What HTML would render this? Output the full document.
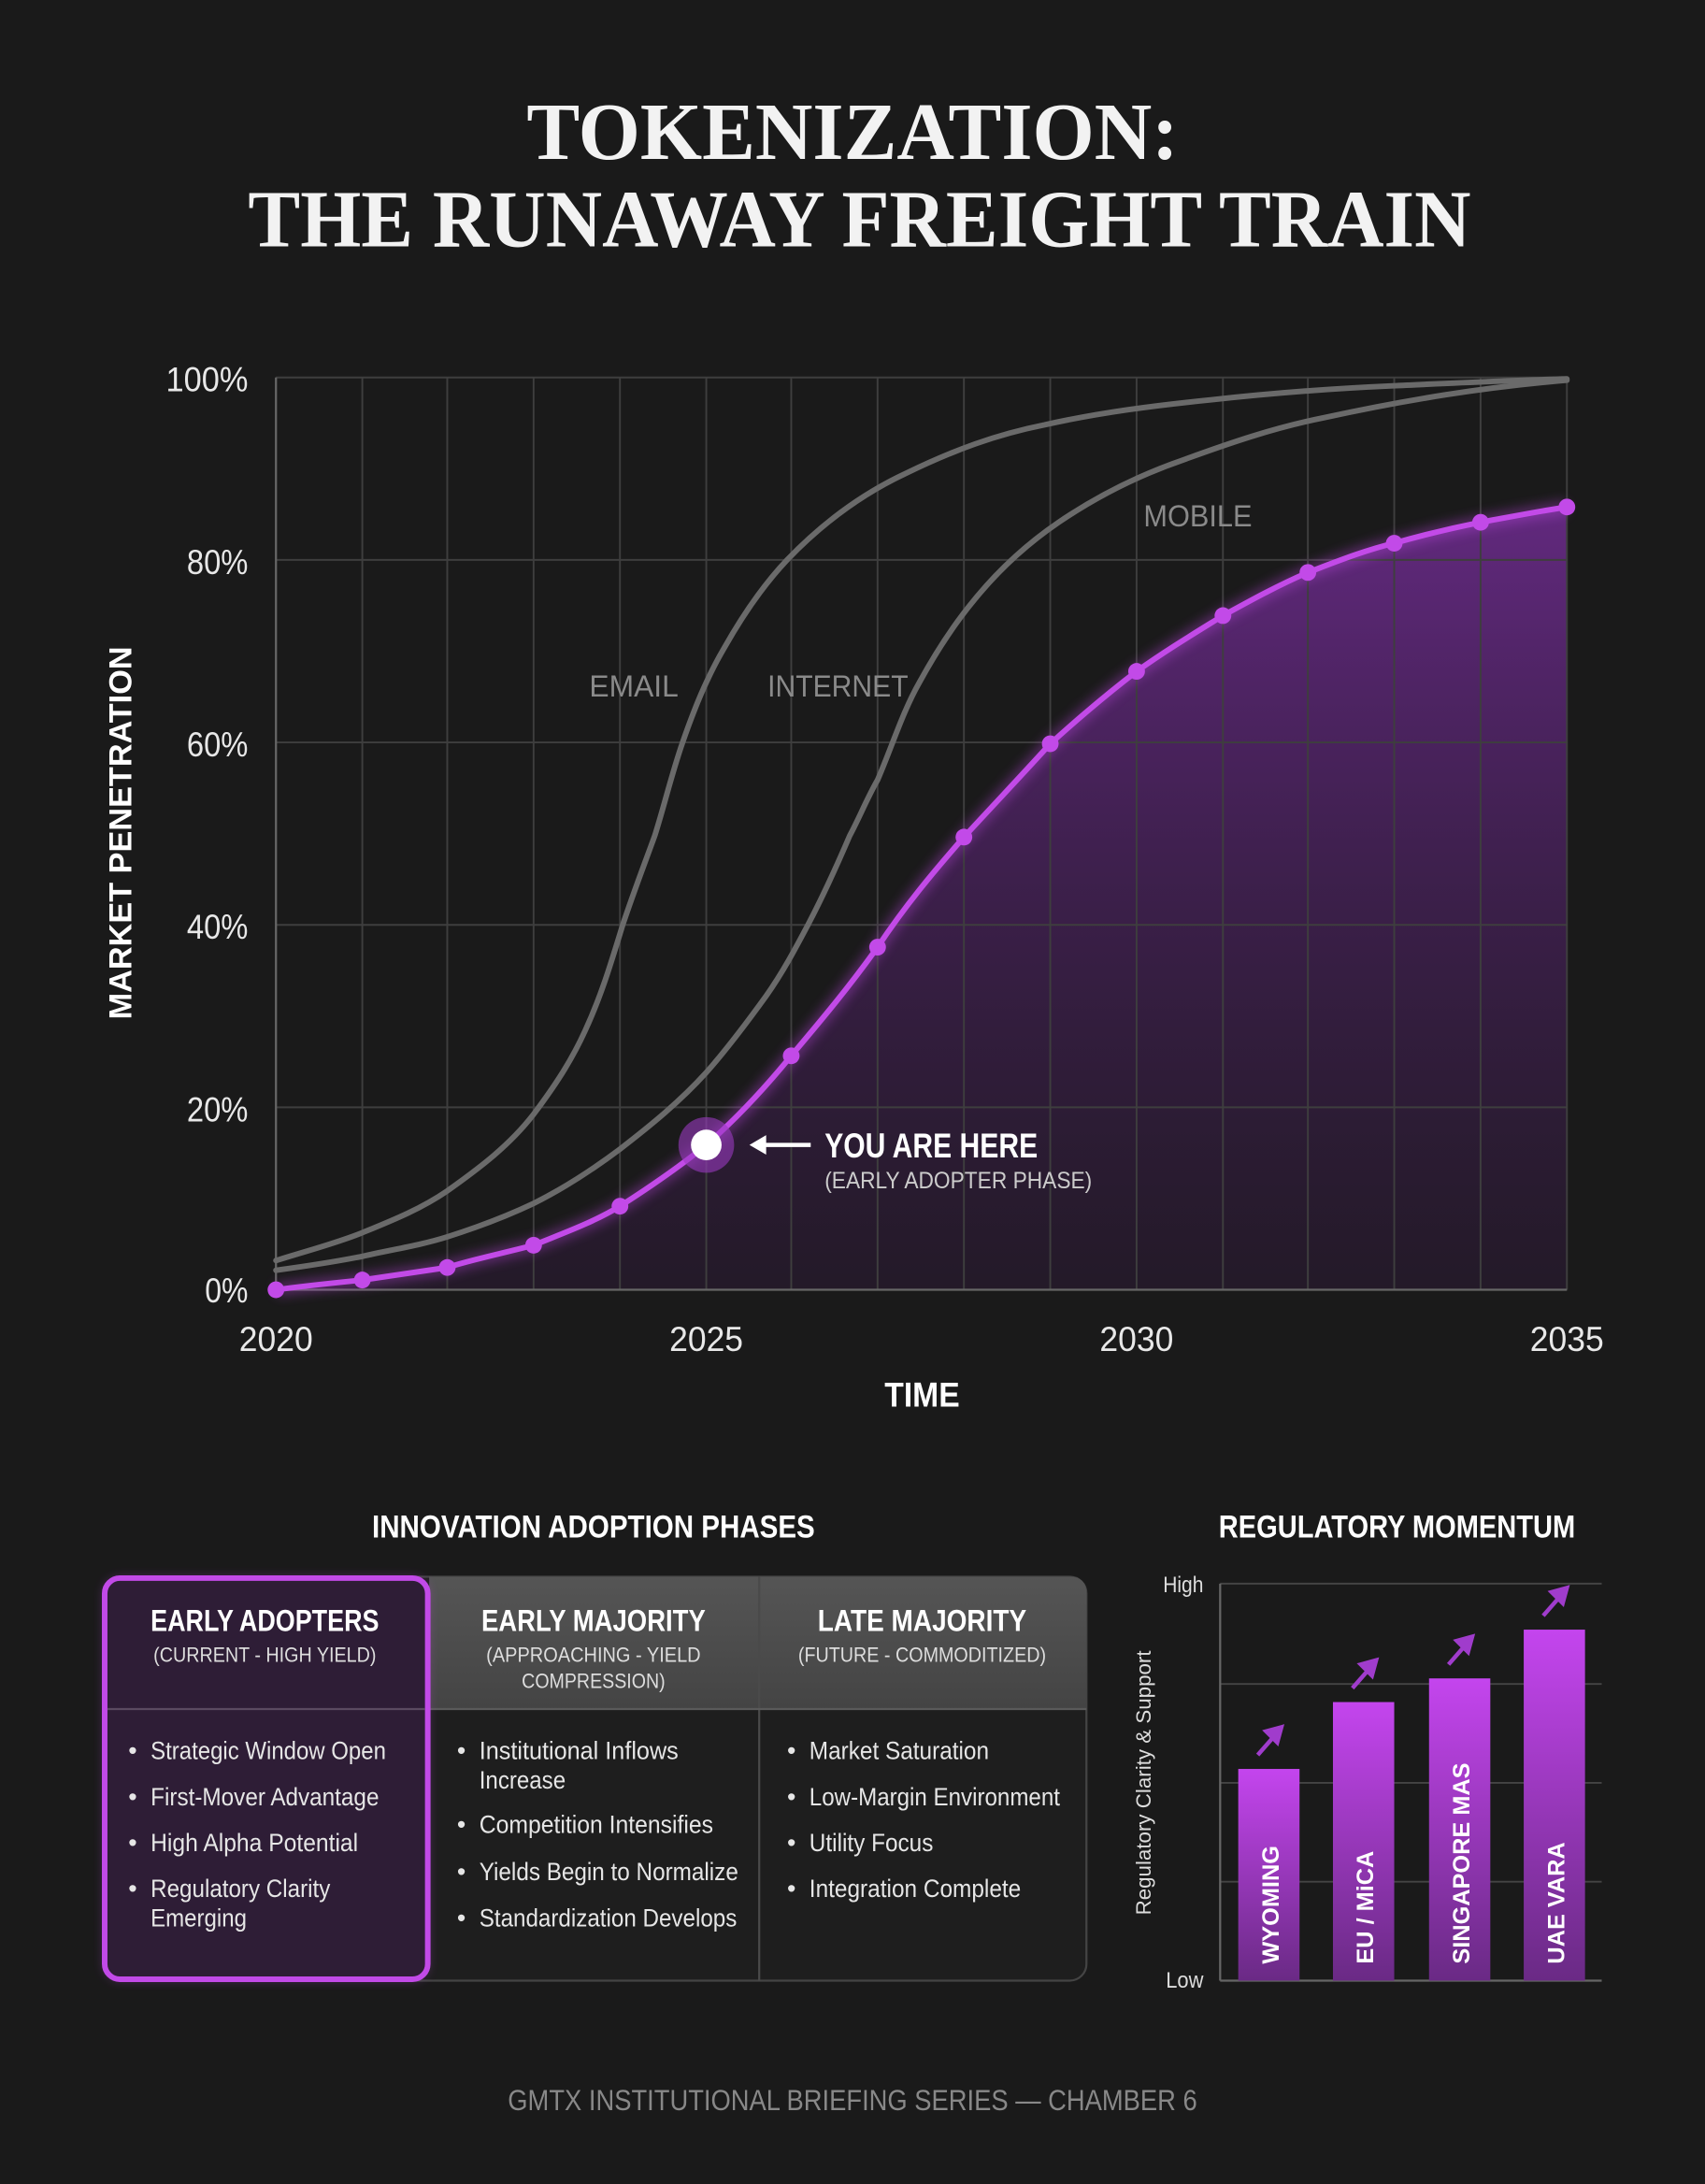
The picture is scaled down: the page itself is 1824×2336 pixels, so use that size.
<!DOCTYPE html>
<html><head><meta charset="utf-8"><style>
html,body{margin:0;padding:0;background:#1a1a1a;}
svg{display:block}
.n{font-family:"Liberation Sans Narrow","Liberation Sans",sans-serif;}
</style></head><body>
<svg width="1824" height="2336" viewBox="0 0 1224 1568" xmlns="http://www.w3.org/2000/svg">
<defs>
<linearGradient id="fill" x1="0" y1="0" x2="0" y2="1">
<stop offset="0" stop-color="#7a2ea0" stop-opacity="0.75"/>
<stop offset="1" stop-color="#3a1a4a" stop-opacity="0.3"/>
</linearGradient>
<linearGradient id="hdr" x1="0" y1="0" x2="0" y2="1">
<stop offset="0" stop-color="#555"/><stop offset="1" stop-color="#444"/>
</linearGradient>
<linearGradient id="bar" x1="0" y1="0" x2="0" y2="1">
<stop offset="0" stop-color="#c445ee"/><stop offset="1" stop-color="#6a2a85"/>
</linearGradient>
<filter id="glow" x="-50%" y="-50%" width="200%" height="200%"><feGaussianBlur stdDeviation="4"/></filter>
</defs>
<rect width="1224" height="1568" fill="#1a1a1a"/>
<g font-family="Liberation Serif,serif" font-weight="bold" fill="#f2f2f2" text-anchor="middle" font-size="58">
<text x="612" y="114" textLength="468" lengthAdjust="spacingAndGlyphs">TOKENIZATION:</text>
<text x="617" y="177" textLength="878" lengthAdjust="spacingAndGlyphs">THE RUNAWAY FREIGHT TRAIN</text>
</g>
<path d="M198,926 C220,923 240,921 260,919 C280,916 300,913 321,910 C340,904 360,900 383,894 C405,885 425,878 445,866 C470,850 490,836 507,822 C530,802 550,780 568,758 C590,732 610,708 630,680 C650,650 670,626 692,601 C715,576 735,555 754,534 C775,515 795,498 816,482 C837,467 857,455 878,442 C898,431 918,420 939,411 C960,403 980,395 1001,390 C1022,384 1043,379 1063,375 C1085,371 1105,367 1125,364 L1125,926 Z" fill="url(#fill)"/>
<g stroke="#3e3e3e" stroke-width="1.3">
<line x1="260" y1="271" x2="260" y2="926"/><line x1="321" y1="271" x2="321" y2="926"/><line x1="383" y1="271" x2="383" y2="926"/><line x1="445" y1="271" x2="445" y2="926"/><line x1="507" y1="271" x2="507" y2="926"/><line x1="568" y1="271" x2="568" y2="926"/><line x1="630" y1="271" x2="630" y2="926"/><line x1="692" y1="271" x2="692" y2="926"/><line x1="754" y1="271" x2="754" y2="926"/><line x1="816" y1="271" x2="816" y2="926"/><line x1="878" y1="271" x2="878" y2="926"/><line x1="939" y1="271" x2="939" y2="926"/><line x1="1001" y1="271" x2="1001" y2="926"/><line x1="1063" y1="271" x2="1063" y2="926"/><line x1="1125" y1="271" x2="1125" y2="926"/>
<line x1="198" y1="271" x2="1125" y2="271"/><line x1="198" y1="402" x2="1125" y2="402"/><line x1="198" y1="533" x2="1125" y2="533"/><line x1="198" y1="664" x2="1125" y2="664"/><line x1="198" y1="795" x2="1125" y2="795"/>
</g>
<line x1="198" y1="271" x2="198" y2="926" stroke="#666" stroke-width="1.5"/>
<line x1="198" y1="926" x2="1125" y2="926" stroke="#666" stroke-width="1.5"/>
<g fill="none" stroke="#6a6a6a" stroke-width="4" stroke-linecap="round">
<path id="email" d="M198,905 C220,898 240,893 260,885 C282,876 302,868 321,855 C345,838 366,822 383,800 C398,780 410,762 420,740 C432,714 439,690 447,664 C455,640 462,622 470,600 C477,578 482,556 490,533 C498,510 507,487 520,465 C533,442 548,420 565,402 C590,376 618,355 650,340 C685,323 715,312 750,305 C790,296 830,291 870,287 C915,282 955,279 1000,277 C1045,275 1085,273 1125,272"/>
<path id="internet" d="M198,912 C220,909 240,906 260,902 C282,897 302,894 321,888 C343,881 362,874 383,864 C405,853 425,840 445,825 C467,808 488,791 507,770 C522,753 537,733 550,715 C562,698 571,681 580,664 C591,643 601,621 610,600 C617,587 622,574 630,560 C640,537 648,511 660,490 C672,468 685,448 700,430 C718,408 738,390 760,375 C788,356 818,341 850,330 C883,318 915,307 950,300 C1010,287 1065,278 1125,273"/>
</g>
<g class="n" fill="#8a8a8a" font-size="22">
<text x="423" y="500" textLength="64" lengthAdjust="spacingAndGlyphs">EMAIL</text>
<text x="551" y="500" textLength="101" lengthAdjust="spacingAndGlyphs">INTERNET</text>
<text x="821" y="378" textLength="78" lengthAdjust="spacingAndGlyphs">MOBILE</text>
</g>
<path d="M198,926 C220,923 240,921 260,919 C280,916 300,913 321,910 C340,904 360,900 383,894 C405,885 425,878 445,866 C470,850 490,836 507,822 C530,802 550,780 568,758 C590,732 610,708 630,680 C650,650 670,626 692,601 C715,576 735,555 754,534 C775,515 795,498 816,482 C837,467 857,455 878,442 C898,431 918,420 939,411 C960,403 980,395 1001,390 C1022,384 1043,379 1063,375 C1085,371 1105,367 1125,364" fill="none" stroke="#c24ae8" stroke-width="10" opacity="0.35" filter="url(#glow)"/>
<path d="M198,926 C220,923 240,921 260,919 C280,916 300,913 321,910 C340,904 360,900 383,894 C405,885 425,878 445,866 C470,850 490,836 507,822 C530,802 550,780 568,758 C590,732 610,708 630,680 C650,650 670,626 692,601 C715,576 735,555 754,534 C775,515 795,498 816,482 C837,467 857,455 878,442 C898,431 918,420 939,411 C960,403 980,395 1001,390 C1022,384 1043,379 1063,375 C1085,371 1105,367 1125,364" fill="none" stroke="#c24ae8" stroke-width="4"/>
<g fill="#c24ae8">
<circle cx="198" cy="926" r="6"/><circle cx="260" cy="919" r="6"/><circle cx="321" cy="910" r="6"/><circle cx="383" cy="894" r="6"/><circle cx="445" cy="866" r="6"/><circle cx="568" cy="758" r="6"/><circle cx="630" cy="680" r="6"/><circle cx="692" cy="601" r="6"/><circle cx="754" cy="534" r="6"/><circle cx="816" cy="482" r="6"/><circle cx="878" cy="442" r="6"/><circle cx="939" cy="411" r="6"/><circle cx="1001" cy="390" r="6"/><circle cx="1063" cy="375" r="6"/><circle cx="1125" cy="364" r="6"/>
</g>
<circle cx="507" cy="822" r="20" fill="#9a3ac0" opacity="0.6"/>
<circle cx="507" cy="822" r="11" fill="#fff"/>
<line x1="582" y1="822" x2="545" y2="822" stroke="#fff" stroke-width="3"/>
<path d="M538,822 L550,815 L550,829 Z" fill="#fff"/>
<text class="n" x="592" y="831" fill="#fff" font-weight="bold" font-size="25" textLength="153" lengthAdjust="spacingAndGlyphs">YOU ARE HERE</text>
<text class="n" x="592" y="853" fill="#ccc" font-size="17" textLength="192" lengthAdjust="spacingAndGlyphs">(EARLY ADOPTER PHASE)</text>
<g class="n" fill="#e8e8e8" font-size="25" text-anchor="end">
<text x="178" y="281" textLength="59" lengthAdjust="spacingAndGlyphs">100%</text>
<text x="178" y="412" textLength="44" lengthAdjust="spacingAndGlyphs">80%</text>
<text x="178" y="543" textLength="44" lengthAdjust="spacingAndGlyphs">60%</text>
<text x="178" y="674" textLength="44" lengthAdjust="spacingAndGlyphs">40%</text>
<text x="178" y="805" textLength="44" lengthAdjust="spacingAndGlyphs">20%</text>
<text x="178" y="935" textLength="31" lengthAdjust="spacingAndGlyphs">0%</text>
</g>
<g class="n" fill="#e8e8e8" font-size="25" text-anchor="middle">
<text x="198" y="970" textLength="53" lengthAdjust="spacingAndGlyphs">2020</text>
<text x="507" y="970" textLength="53" lengthAdjust="spacingAndGlyphs">2025</text>
<text x="816" y="970" textLength="53" lengthAdjust="spacingAndGlyphs">2030</text>
<text x="1125" y="970" textLength="53" lengthAdjust="spacingAndGlyphs">2035</text>
</g>
<text class="n" x="662" y="1010" fill="#fff" font-weight="bold" font-size="25" text-anchor="middle" textLength="54" lengthAdjust="spacingAndGlyphs">TIME</text>
<text x="0" y="0" transform="translate(94,598) rotate(-90)" fill="#fff" font-family="Liberation Sans,sans-serif" font-weight="bold" font-size="23" text-anchor="middle">MARKET PENETRATION</text>
<text class="n" x="426" y="1104" fill="#fff" font-weight="bold" font-size="23" text-anchor="middle" textLength="318" lengthAdjust="spacingAndGlyphs">INNOVATION ADOPTION PHASES</text>
<rect x="75" y="1132" width="705" height="290" rx="12" fill="#1e1e1e" stroke="#444" stroke-width="1.5"/>
<path d="M308,1132 L768,1132 Q780,1132 780,1144 L780,1227 L308,1227 Z" fill="url(#hdr)"/>
<line x1="545" y1="1132" x2="545" y2="1422" stroke="#4a4a4a" stroke-width="1.5"/>
<line x1="308" y1="1227" x2="780" y2="1227" stroke="#5a5a5a" stroke-width="1.5"/>
<rect x="75" y="1133" width="232" height="288" rx="11" fill="#c24ae8" opacity="0.4" filter="url(#glow)"/>
<rect x="75" y="1133" width="232" height="288" rx="11" fill="#2e1d36" stroke="#c24ae8" stroke-width="4"/>
<line x1="77" y1="1227" x2="305" y2="1227" stroke="#5a4a60" stroke-width="1.5"/>
<g class="n" fill="#fff" text-anchor="middle">
<text x="190" y="1171" font-weight="bold" font-size="22" textLength="164" lengthAdjust="spacingAndGlyphs">EARLY ADOPTERS</text>
<text x="190" y="1193" font-size="15" fill="#ddd" textLength="160" lengthAdjust="spacingAndGlyphs">(CURRENT - HIGH YIELD)</text>
<text x="426" y="1171" font-weight="bold" font-size="22" textLength="161" lengthAdjust="spacingAndGlyphs">EARLY MAJORITY</text>
<text x="426" y="1193" font-size="15" fill="#ddd" textLength="154" lengthAdjust="spacingAndGlyphs">(APPROACHING - YIELD</text>
<text x="426" y="1212" font-size="15" fill="#ddd" textLength="103" lengthAdjust="spacingAndGlyphs">COMPRESSION)</text>
<text x="662" y="1171" font-weight="bold" font-size="22" textLength="150" lengthAdjust="spacingAndGlyphs">LATE MAJORITY</text>
<text x="662" y="1193" font-size="15" fill="#ddd" textLength="178" lengthAdjust="spacingAndGlyphs">(FUTURE - COMMODITIZED)</text>
</g>
<g class="n" fill="#e6e6e6" font-size="18" lengthAdjust="spacingAndGlyphs">
<text x="92" y="1263">•</text><text x="108" y="1263" textLength="169" lengthAdjust="spacingAndGlyphs">Strategic Window Open</text>
<text x="92" y="1296">•</text><text x="108" y="1296" textLength="164" lengthAdjust="spacingAndGlyphs">First-Mover Advantage</text>
<text x="92" y="1329">•</text><text x="108" y="1329" textLength="149" lengthAdjust="spacingAndGlyphs">High Alpha Potential</text>
<text x="92" y="1362">•</text><text x="108" y="1362" textLength="129" lengthAdjust="spacingAndGlyphs">Regulatory Clarity</text><text x="108" y="1383" textLength="69" lengthAdjust="spacingAndGlyphs">Emerging</text>
<text x="328" y="1263">•</text><text x="344" y="1263" textLength="143" lengthAdjust="spacingAndGlyphs">Institutional Inflows</text><text x="344" y="1284" textLength="62" lengthAdjust="spacingAndGlyphs">Increase</text>
<text x="328" y="1316">•</text><text x="344" y="1316" textLength="168" lengthAdjust="spacingAndGlyphs">Competition Intensifies</text>
<text x="328" y="1350">•</text><text x="344" y="1350" textLength="186" lengthAdjust="spacingAndGlyphs">Yields Begin to Normalize</text>
<text x="328" y="1383">•</text><text x="344" y="1383" textLength="185" lengthAdjust="spacingAndGlyphs">Standardization Develops</text>
<text x="565" y="1263">•</text><text x="581" y="1263" textLength="129" lengthAdjust="spacingAndGlyphs">Market Saturation</text>
<text x="565" y="1296">•</text><text x="581" y="1296" textLength="180" lengthAdjust="spacingAndGlyphs">Low-Margin Environment</text>
<text x="565" y="1329">•</text><text x="581" y="1329" textLength="89" lengthAdjust="spacingAndGlyphs">Utility Focus</text>
<text x="565" y="1362">•</text><text x="581" y="1362" textLength="152" lengthAdjust="spacingAndGlyphs">Integration Complete</text>
</g>
<text class="n" x="1003" y="1104" fill="#fff" font-weight="bold" font-size="23" text-anchor="middle" textLength="256" lengthAdjust="spacingAndGlyphs">REGULATORY MOMENTUM</text>
<g stroke="#444" stroke-width="1.3">
<line x1="876" y1="1137" x2="1150" y2="1137"/><line x1="876" y1="1209" x2="1150" y2="1209"/><line x1="876" y1="1280" x2="1150" y2="1280"/><line x1="876" y1="1351" x2="1150" y2="1351"/>
</g>
<line x1="876" y1="1137" x2="876" y2="1422" stroke="#666" stroke-width="1.5"/>
<line x1="876" y1="1422" x2="1150" y2="1422" stroke="#666" stroke-width="1.5"/>
<g class="n" fill="#ddd" font-size="16"><text x="835" y="1143" textLength="29" lengthAdjust="spacingAndGlyphs">High</text><text x="837" y="1427" textLength="27" lengthAdjust="spacingAndGlyphs">Low</text></g>
<text transform="translate(826,1280) rotate(-90)" fill="#ddd" font-family="Liberation Sans,sans-serif" font-size="15" text-anchor="middle">Regulatory Clarity &amp; Support</text>
<rect x="889" y="1270" width="44" height="152" fill="url(#bar)"/>
<rect x="957" y="1222" width="44" height="200" fill="url(#bar)"/>
<rect x="1026" y="1205" width="44" height="217" fill="url(#bar)"/>
<rect x="1094" y="1170" width="44" height="252" fill="url(#bar)"/>
<g stroke="#a03ccc" stroke-width="3" fill="#a03ccc">
<line x1="903" y1="1260" x2="917" y2="1244"/><path d="M920,1240 L909,1243 L917,1251 Z"/>
<line x1="971" y1="1212" x2="985" y2="1196"/><path d="M988,1192 L977,1195 L985,1203 Z"/>
<line x1="1040" y1="1195" x2="1054" y2="1179"/><path d="M1057,1175 L1046,1178 L1054,1186 Z"/>
<line x1="1108" y1="1160" x2="1122" y2="1144"/><path d="M1125,1140 L1114,1143 L1122,1151 Z"/>
</g>
<g fill="#fff" font-family="Liberation Sans,sans-serif" font-weight="bold" font-size="17">
<text transform="translate(918,1410) rotate(-90)">WYOMING</text>
<text transform="translate(986,1410) rotate(-90)">EU / MiCA</text>
<text transform="translate(1055,1410) rotate(-90)">SINGAPORE MAS</text>
<text transform="translate(1123,1410) rotate(-90)">UAE VARA</text>
</g>
<text class="n" x="612" y="1515" fill="#888" font-size="21" text-anchor="middle" textLength="495" lengthAdjust="spacingAndGlyphs">GMTX INSTITUTIONAL BRIEFING SERIES — CHAMBER 6</text>
</svg>
</body></html>
